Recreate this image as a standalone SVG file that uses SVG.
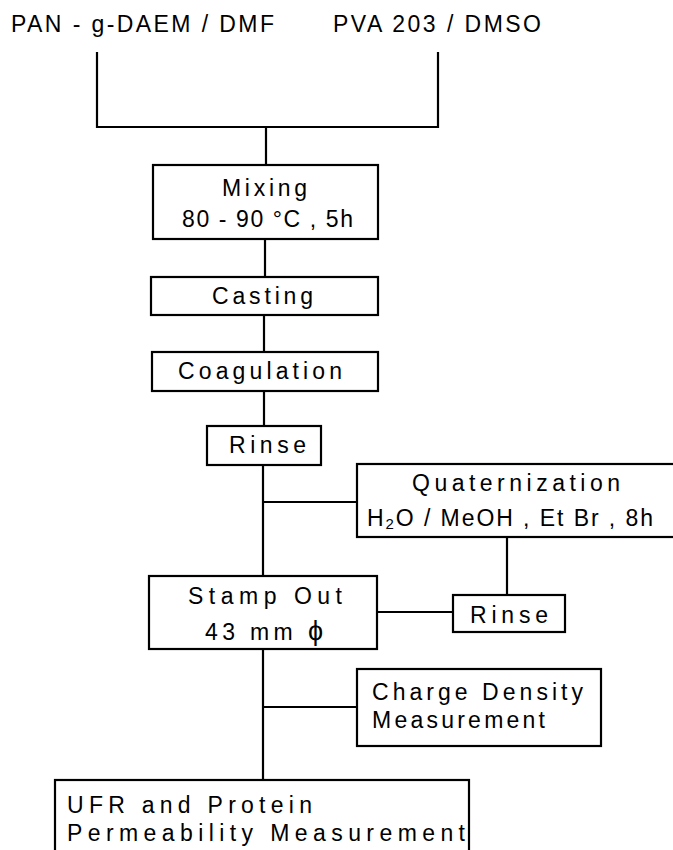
<svg xmlns="http://www.w3.org/2000/svg" width="673" height="850" viewBox="0 0 673 850">
<style>
.box{fill:#fff;stroke:#000;stroke-width:2.2}
.ln{fill:none;stroke:#000;stroke-width:2.2}
text{font-family:"Liberation Sans",Arial,sans-serif;font-size:23px;fill:#000}
</style>
<rect width="673" height="850" fill="#fff"/>
<g id="inputs">
<text x="11" y="32" textLength="263" lengthAdjust="spacing">PAN - g-DAEM / DMF</text>
<text x="333" y="32" textLength="208" lengthAdjust="spacing">PVA 203 / DMSO</text>
</g>
<g id="connectors">
<path class="ln" d="M97 52V127H438V52M266 127V165"/>
<path class="ln" d="M265 239V277"/>
<path class="ln" d="M264 315V352"/>
<path class="ln" d="M264 391V426"/>
<path class="ln" d="M263 465V576M263 502H357"/>
<path class="ln" d="M507 537V595"/>
<path class="ln" d="M377 612H453"/>
<path class="ln" d="M263 649V780M263 707H357"/>
</g>
<g id="mixing">
<rect class="box" x="153" y="165" width="225" height="74"/>
<text x="222" y="196" textLength="85" lengthAdjust="spacing">Mixing</text>
<text x="182" y="227" textLength="171" lengthAdjust="spacing">80 - 90 °C , 5h</text>
</g>
<g id="casting">
<rect class="box" x="151" y="277" width="227" height="38"/>
<text x="212" y="304" textLength="101" lengthAdjust="spacing">Casting</text>
</g>
<g id="coagulation">
<rect class="box" x="152" y="352" width="226" height="39"/>
<text x="178" y="379" textLength="164" lengthAdjust="spacing">Coagulation</text>
</g>
<g id="rinse1">
<rect class="box" x="207" y="426" width="114" height="39"/>
<text x="229" y="453" textLength="77" lengthAdjust="spacing">Rinse</text>
</g>
<g id="quaternization">
<rect class="box" x="357" y="464" width="320" height="73"/>
<text x="412" y="491" textLength="208" lengthAdjust="spacing">Quaternization</text>
<text x="367" y="526" textLength="286" lengthAdjust="spacing">H<tspan font-size="15" dy="3">2</tspan><tspan dy="-3">O / MeOH , Et Br , 8h</tspan></text>
</g>
<g id="stampout">
<rect class="box" x="149" y="576" width="228" height="73"/>
<text x="188" y="604" textLength="154" lengthAdjust="spacing">Stamp Out</text>
<text x="205" y="640" textLength="118" lengthAdjust="spacing">43 mm <tspan font-size="27">ϕ</tspan></text>
</g>
<g id="rinse2">
<rect class="box" x="453" y="595" width="112" height="37"/>
<text x="470" y="623" textLength="78" lengthAdjust="spacing">Rinse</text>
</g>
<g id="chargedensity">
<rect class="box" x="357" y="669" width="244" height="77"/>
<text x="372" y="700" textLength="211" lengthAdjust="spacing">Charge Density</text>
<text x="372" y="728" textLength="173" lengthAdjust="spacing">Measurement</text>
</g>
<g id="ufr">
<rect class="box" x="55" y="780" width="414" height="80"/>
<text x="67" y="813" textLength="245" lengthAdjust="spacing">UFR and Protein</text>
<text x="67" y="841" textLength="398" lengthAdjust="spacing">Permeability Measurement</text>
</g>
</svg>
